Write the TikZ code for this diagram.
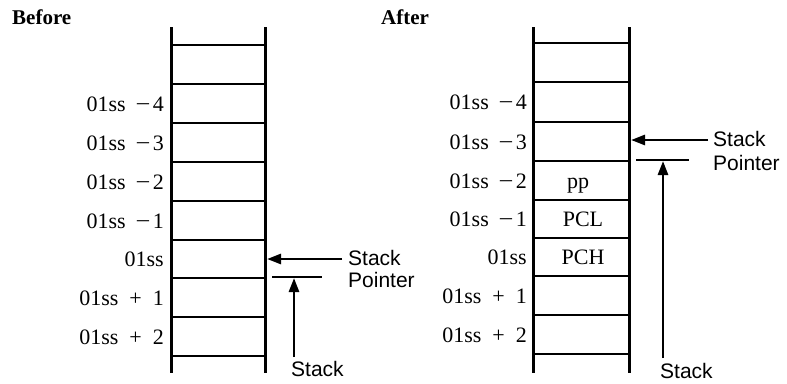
\documentclass[tikz,border=0pt]{standalone}
\usepackage{fontspec}
\setmainfont{Liberation Serif}
\newfontfamily\sansf{Liberation Sans}
\usetikzlibrary{arrows.meta}
\newcommand{\mlbl}[1]{01ss\hspace{0.45em}\scalebox{1.2}[1]{−}\hspace{0.1em}#1}
\newcommand{\plbl}[1]{01ss\hspace{0.5em}+\hspace{0.5em}#1}
\begin{document}
\begin{tikzpicture}[x=1pt,y=-1pt,
  rail/.style={line width=3pt},
  rung/.style={line width=2.8pt},
  lbl/.style={anchor=base east, inner sep=0pt, font=\fontsize{22}{26}\selectfont},
  cellt/.style={anchor=base, inner sep=0pt, font=\fontsize{22}{26}\selectfont},
  sp/.style={anchor=base west, inner sep=0pt, font=\sansf\fontsize{21}{25}\selectfont},
  ttl/.style={anchor=base west, inner sep=0pt, font=\bfseries\fontsize{21}{25}\selectfont},
  ptr/.style={line width=2.7pt, -{Triangle[length=14pt,width=10pt]}},
  stopline/.style={line width=2.4pt}]
\useasboundingbox (0,0) rectangle (787,383);

% titles
\node[ttl] (before) at (12,24) {Before};
\node[ttl] (after) at (381,24) {After};

% ---------- left stack ----------
\draw[rail] (171,27) -- (171,373);
\draw[rail] (265,27) -- (265,373);
\foreach \y in {45,84,123,162,201,240,278,317,356}
  \draw[rung] (171,\y) -- (265,\y);
\node[lbl] (l4) at (164,111) {\mlbl{4}};
\node[lbl] (l3) at (164,150) {\mlbl{3}};
\node[lbl] (l2) at (164,189) {\mlbl{2}};
\node[lbl] (l1) at (164,228) {\mlbl{1}};
\node[lbl] (l0) at (164,266.5) {01ss};
\node[lbl] (lp1) at (164,305) {\plbl{1}};
\node[lbl] (lp2) at (164,344) {\plbl{2}};

\node[sp] (spL1) at (348,265) {Stack};
\node[sp] (spL2) at (348,287) {Pointer};
\coordinate (tipL) at (267,259);
\draw[ptr] ([xshift=-6pt]spL1.west |- tipL) -- (tipL);
\coordinate (stopLa) at (272,277);
\coordinate (stopLb) at (322,277);
\draw[stopline] (stopLa) -- (stopLb);
\coordinate (botL) at (294,357);
\coordinate (topL) at (294,278);
\draw[ptr] (botL) -- (topL);
\node[sp] (stL) at (291,376) {Stack};

% ---------- right stack ----------
\draw[rail] (533,27) -- (533,373);
\draw[rail] (629,27) -- (629,373);
\foreach \y in {43,82,122,161,200,238,276,315,354}
  \draw[rung] (533,\y) -- (629,\y);
\node[lbl] (r4) at (527,109.5) {\mlbl{4}};
\node[lbl] (r3) at (527,149) {\mlbl{3}};
\node[lbl] (r2) at (527,188) {\mlbl{2}};
\node[lbl] (r1) at (527,226.5) {\mlbl{1}};
\node[lbl] (r0) at (527,264.5) {01ss};
\node[lbl] (rp1) at (527,303) {\plbl{1}};
\node[lbl] (rp2) at (527,342) {\plbl{2}};
\node[cellt] (cpp) at (578,188) {pp};
\node[cellt] (cpcl) at (583,226.5) {PCL};
\node[cellt] (cpch) at (583,264.5) {PCH};

\node[sp] (spR1) at (713,146) {Stack};
\node[sp] (spR2) at (713,170) {Pointer};
\coordinate (tipR) at (631,140);
\draw[ptr] ([xshift=-5pt]spR1.west |- tipR) -- (tipR);
\coordinate (stopRa) at (636,160);
\coordinate (stopRb) at (689,160);
\draw[stopline] (stopRa) -- (stopRb);
\coordinate (botR) at (663,358);
\coordinate (topR) at (663,161);
\draw[ptr] (botR) -- (topR);
\node[sp] (stR) at (660,378) {Stack};
\end{tikzpicture}
\end{document}
